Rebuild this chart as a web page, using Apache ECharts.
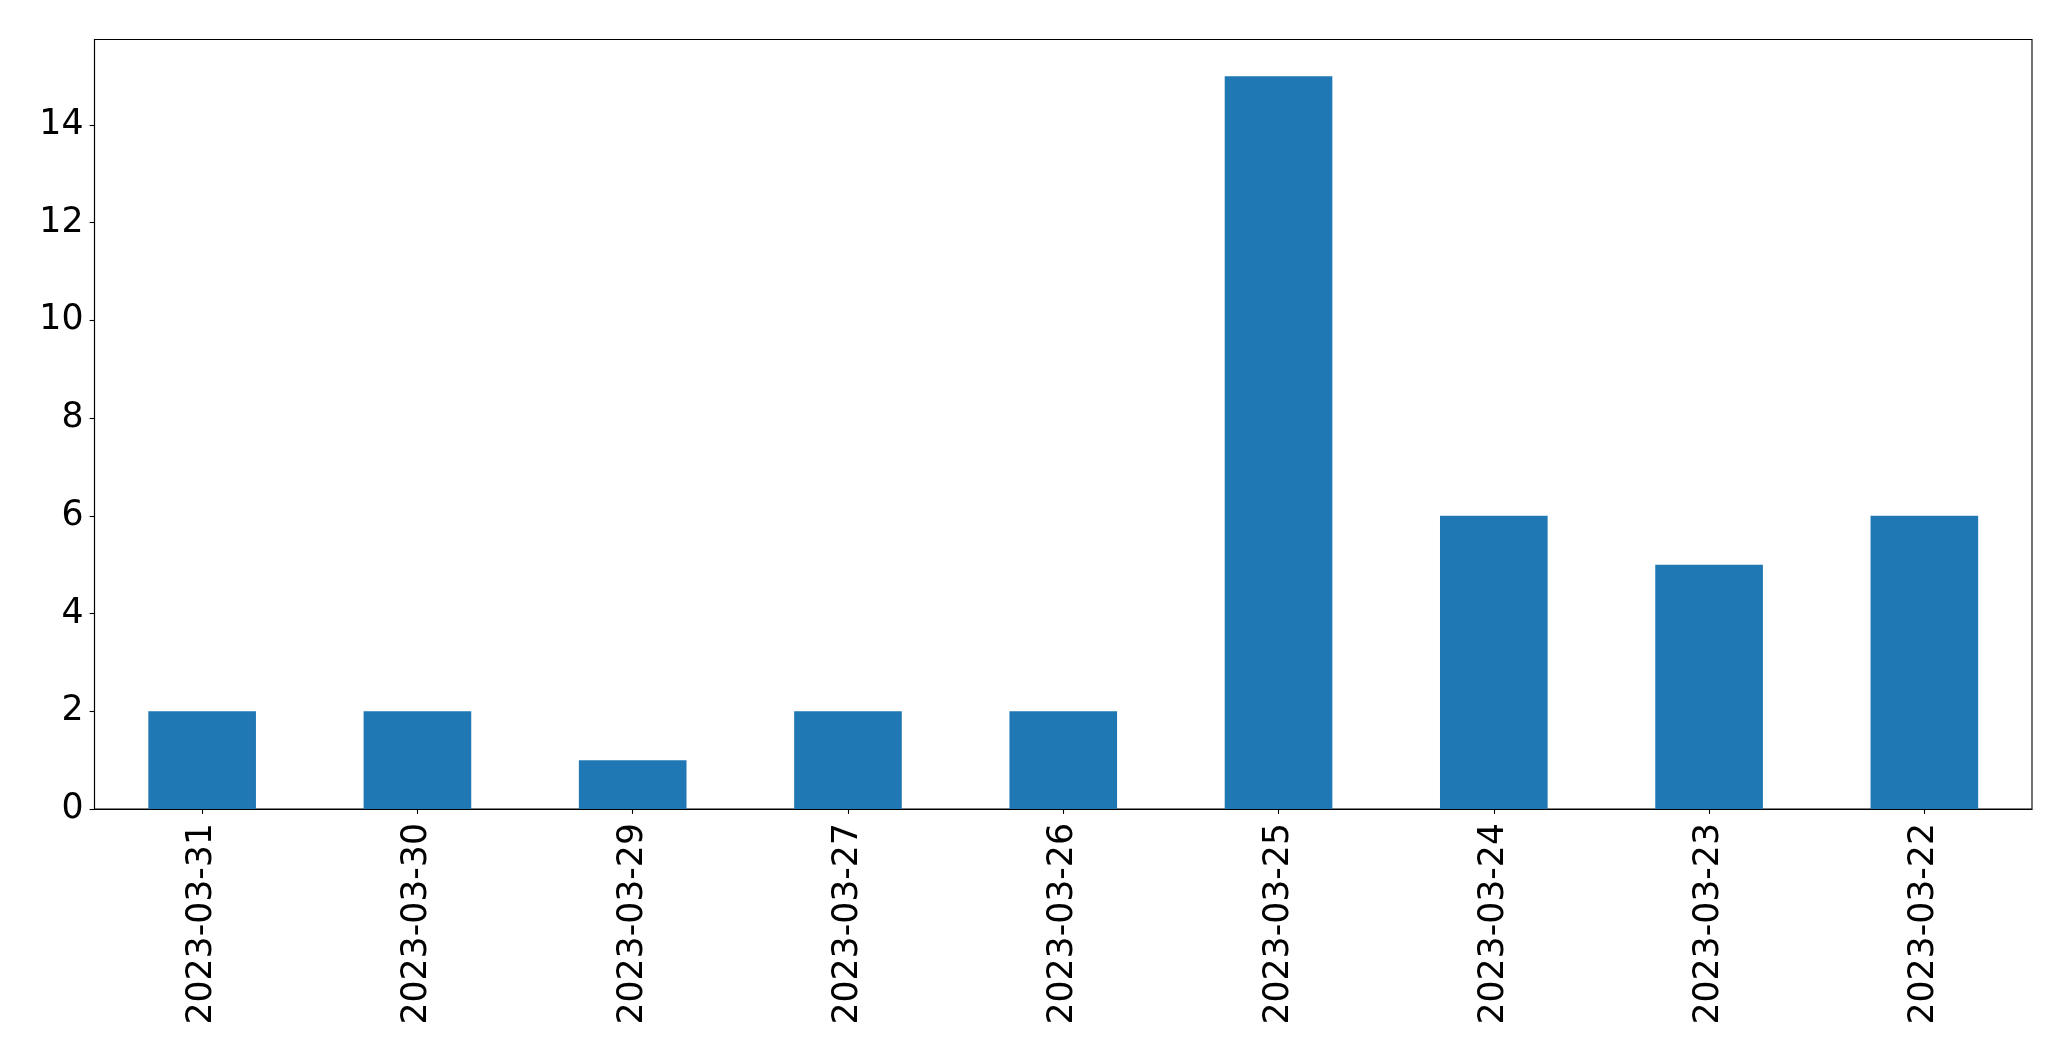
<!DOCTYPE html>
<html>
<head>
<meta charset="utf-8">
<script src="https://cdn.jsdelivr.net/npm/echarts@6/dist/echarts.min.js"></script>
<style>
html,body{margin:0;padding:0;background:#fff;}
#chart{width:2071px;height:1061px;}
</style>
</head>
<body>
<div id="chart"></div>
<script>
const categories = ['2023-03-31','2023-03-30','2023-03-29','2023-03-27','2023-03-26','2023-03-25','2023-03-24','2023-03-23','2023-03-22'];
const values = [2, 2, 1, 2, 2, 15, 6, 5, 6];
const yTicks = [0, 2, 4, 6, 8, 10, 12, 14];
const yMax = 15.75;

const chart = echarts.init(document.getElementById('chart'), null, {renderer: 'canvas'});
const font = 'DejaVu Sans';
chart.setOption({
  animation: false,
  backgroundColor: '#ffffff',
  grid: {
    left: 94.5, right: 39, top: 39.5, bottom: 252,
    show: true, borderColor: '#000', borderWidth: 1.1, backgroundColor: 'transparent'
  },
  xAxis: {
    type: 'category',
    data: categories,
    boundaryGap: true,
    axisLine: {show: true, lineStyle: {color: '#000', width: 1.1}},
    axisTick: {show: true, alignWithLabel: true, length: 4.9, lineStyle: {color: '#000', width: 1.1}},
    axisLabel: {rotate: 90, margin: 14, color: '#000', fontFamily: font, fontSize: 34.7, interval: 0},
    splitLine: {show: false}
  },
  yAxis: {
    type: 'value',
    min: 0,
    max: yMax,
    axisLine: {show: true, lineStyle: {color: '#000', width: 1.1}},
    axisTick: {show: true, length: 4.9, lineStyle: {color: '#000', width: 1.1}, customValues: yTicks},
    axisLabel: {margin: 11, color: '#000', fontFamily: font, fontSize: 34.7, customValues: yTicks},
    splitLine: {show: false}
  },
  series: [{
    type: 'bar',
    data: values,
    barWidth: '50%',
    itemStyle: {color: '#1f77b4'}
  }]
});
</script>
</body>
</html>
